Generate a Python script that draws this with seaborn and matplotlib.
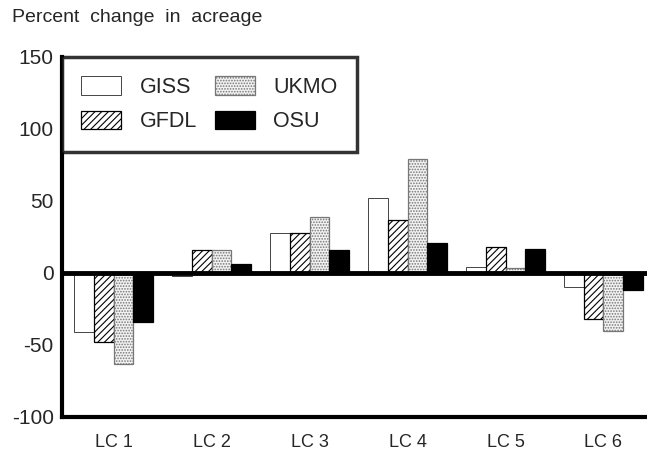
import numpy as np
import pandas as pd
import matplotlib
matplotlib.use("Agg")
import matplotlib.pyplot as plt
import seaborn as sns

CATEGORIES = ["LC 1", "LC 2", "LC 3", "LC 4", "LC 5", "LC 6"]
MODELS     = ["GISS", "GFDL", "UKMO", "OSU"]
GISS = [-41, -2, 28, 52, 4, -10]
GFDL = [-48, 16, 28, 37, 18, -32]
UKMO = [-63, 16, 39, 79, 3.5, -40]
OSU  = [-34, 6, 16, 21, 17, -12]
Y_TICKS = [-100, -50, 0, 50, 100, 150]

sns.set_style("white")
plt.rcParams["font.family"] = ["Liberation Sans", "DejaVu Sans"]
plt.rcParams["hatch.linewidth"] = 0.8

df = pd.DataFrame({
    "cat":   CATEGORIES * 4,
    "model": np.repeat(MODELS, len(CATEGORIES)),
    "value": GISS + GFDL + UKMO + OSU,
})

fig = plt.figure(figsize=(6.47, 4.57), dpi=100)
ax = fig.add_axes([62 / 647, 40 / 457, 585 / 647, 360 / 457])

sns.barplot(data=df, x="cat", y="value", hue="model", hue_order=MODELS,
            order=CATEGORIES, width=0.8, ax=ax, legend=False,
            palette=["white", "white", "#ececec", "black"], saturation=1)

# ── bar styling per model ────────────────────────────────────────────────
styles = {
    "GISS": dict(facecolor="white",   edgecolor="#444444", hatch=None, lw=0.7),
    "GFDL": dict(facecolor="white",   edgecolor="black",   hatch="/////", lw=0.9),
    "UKMO": dict(facecolor="#f2f2f2", edgecolor="#777777", hatch="......", lw=0.9),
    "OSU":  dict(facecolor="black",   edgecolor="black",   hatch=None, lw=0.9),
}
handles = []
for name, cont in zip(MODELS, ax.containers):
    st = styles[name]
    for bar in cont:
        bar.set_facecolor(st["facecolor"])
        bar.set_edgecolor(st["edgecolor"])
        bar.set_linewidth(st["lw"])
        if st["hatch"]:
            bar.set_hatch(st["hatch"])
    handles.append(cont[0])

ax.axhline(0, color="black", lw=3.5, zorder=5)

ax.set_ylim(-100, 150)
ax.set_xlim(-0.526, 5.444)
ax.set_yticks(Y_TICKS)
ax.set_yticklabels([str(t) for t in Y_TICKS], fontsize=15)
ax.set_xticks(range(len(CATEGORIES)))
ax.set_xticklabels(CATEGORIES, fontsize=13)
ax.tick_params(axis="both", length=0)
ax.tick_params(axis="x", pad=12)
ax.tick_params(axis="y", pad=6)
ax.set_xlabel("")
ax.set_ylabel("")

for side in ["top", "right"]:
    ax.spines[side].set_visible(False)
for side in ["left", "bottom"]:
    ax.spines[side].set_linewidth(3)
    ax.spines[side].set_color("black")

leg = ax.legend(handles, MODELS, ncol=2, loc="upper left",
                bbox_to_anchor=(0, 1), borderaxespad=0, fontsize=15.5,
                fancybox=False, frameon=True, handlelength=1.85,
                handleheight=0.93, columnspacing=0.85, handletextpad=0.85,
                labelspacing=0.6, borderpad=0.9)
leg.get_frame().set_edgecolor("black")
leg.get_frame().set_linewidth(2.5)

fig.text(12 / 647, 1 - 17 / 457, "Percent  change  in  acreage",
         fontsize=14, va="center", ha="left")

fig.savefig("out.png", dpi=100)
